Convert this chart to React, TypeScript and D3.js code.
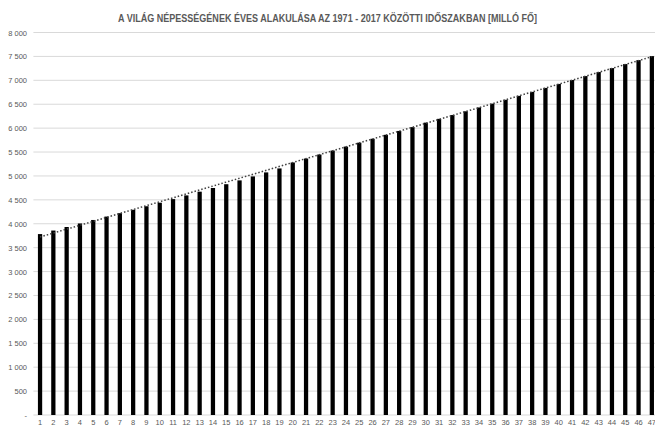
import React from "react";
import * as d3 from "d3";

const categories: number[] = d3.range(1, 48);
const population: number[] = [
  3784, 3858, 3932, 4006, 4079, 4150, 4221, 4293, 4366, 4440,
  4515, 4593, 4671, 4748, 4827, 4907, 4990, 5074, 5157, 5281,
  5364, 5448, 5531, 5614, 5696, 5778, 5860, 5941, 6021, 6115,
  6194, 6273, 6352, 6432, 6512, 6593, 6675, 6758, 6841, 6924,
  7006, 7089, 7173, 7256, 7340, 7423, 7506,
];
const yTicks: number[] = d3.range(0, 8001, 500);
const title = "A VILÁG NÉPESSÉGÉNEK  ÉVES ALAKULÁSA AZ 1971 - 2017 KÖZÖTTI IDŐSZAKBAN [MILLÓ FŐ]";

const W = 655, H = 430;
const left = 33.4, right = 658.5, top = 32.5, bottom = 415;

export default function App() {
  const x = d3.scaleBand<number>().domain(categories).range([left, right]).paddingInner(0.68).paddingOuter(0.34);
  const y = d3.scaleLinear().domain([0, 8000]).range([bottom, top]);
  const fmt = (v: number) => (v === 0 ? "-" : d3.format(",")(v).replace(/,/g, " "));

  // linear trendline (least squares)
  const n = population.length;
  const mx = d3.mean(categories)!;
  const my = d3.mean(population)!;
  const slope = d3.sum(categories, (c, i) => (c - mx) * (population[i] - my)) / d3.sum(categories, (c) => (c - mx) ** 2);
  const intercept = my - slope * mx;
  const trend = [categories[0], categories[n - 1]].map((c) => [x(c)! + x.bandwidth() / 2, y(intercept + slope * c)] as [number, number]);
  const line = d3.line();

  return (
    <svg width={W} height={H} style={{ position: "absolute", left: 0, top: 0, background: "#fff" }}>
      <text x={327.5} y={21.5} textAnchor="middle" fontFamily="'Liberation Sans', Arial, sans-serif" fontWeight="bold" fontSize={10} fill="#595959" textLength={419} lengthAdjust="spacingAndGlyphs">{title}</text>
      {yTicks.map((t) => (
        <g key={t}>
          <line x1={left} x2={W} y1={y(t)} y2={y(t)} stroke="#d9d9d9" strokeWidth={1} />
          <text x={27} y={y(t) + 3} textAnchor="end" fontFamily="'Liberation Sans', Arial, sans-serif" fontSize={7.5} fill="#595959">{fmt(t)}</text>
        </g>
      ))}
      {categories.map((c, i) => (
        <rect key={c} x={x(c)} y={y(population[i])} width={x.bandwidth()} height={bottom - y(population[i])} fill="#000" />
      ))}
      {categories.map((c) => (
        <text key={c} x={x(c)! + x.bandwidth() / 2} y={425} textAnchor="middle" fontFamily="'Liberation Sans', Arial, sans-serif" fontSize={7.5} fill="#595959">{c}</text>
      ))}
      <path d={line(trend)!} stroke="#404040" strokeWidth={1.5} strokeDasharray="1.5,2" fill="none" />
    </svg>
  );
}
